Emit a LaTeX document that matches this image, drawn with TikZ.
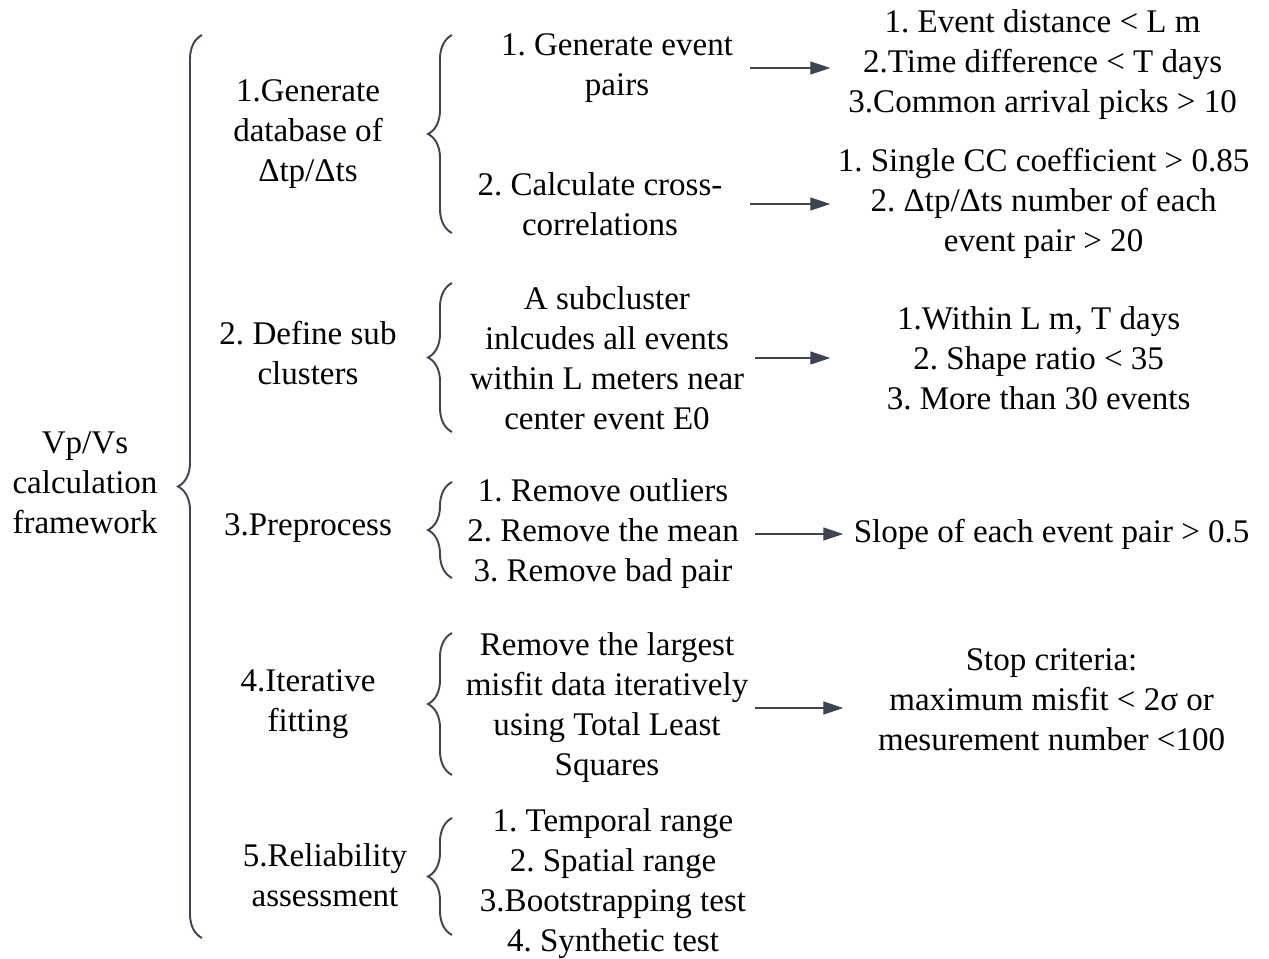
\documentclass[tikz,border=0pt]{standalone}
\usepackage{fontspec}
\setmainfont{Liberation Serif}
\usetikzlibrary{positioning,arrows.meta,decorations.pathreplacing}
\definecolor{slate}{HTML}{3E4451}
\frenchspacing

\begin{document}
\begin{tikzpicture}[x=0.02cm,y=-0.02cm,
 every node/.style={font=\fontsize{18.8}{22.76}\selectfont,align=flush center,inner sep=0pt},
 brc/.style={decorate,decoration={brace,amplitude=0.48cm},draw=slate,line width=1.1pt},
 arr/.style={-{Triangle[length=0.4cm,width=0.26cm]},draw=slate,line width=0.7pt}]

\useasboundingbox (0,0) rectangle (1269,958);

% root of the tree
\node (root) at (85,483) {Vp/Vs\\calculation\\framework};

%Main steps
\node (gen) at (308,134) {1.Generate\\database of\\Δtp/Δts};
\node (define) at (308,353) {2. Define sub\\clusters};
\node (prep) at (308,528) {3.Preprocess};
\node (iter) at (308,704) {4.Iterative\\fitting};
\node (reliab) at (325,875) {5.Reliability\\assessment};

%Sub steps
\node (pairs) [text width=5.32cm] at (617,68) {1. Generate event\\pairs};
\node (xcorr) [text width=6cm] at (600,204) {2. Calculate cross-\\correlations};
\node (subcl) [text width=5.92cm] at (607,358) {A subcluster\\inlcudes all events\\within L meters near\\center event E0};
\node (remove) [text width=6.08cm] at (603,534) {1. Remove outliers\\2. Remove the mean\\3. Remove bad pair};
\node (tls) [text width=5.92cm] at (607,708) {Remove the largest\\misfit data iteratively\\using Total Least\\Squares};
\node (tests) at (613,884) {1. Temporal range\\2. Spatial range\\3.Bootstrapping test\\4. Synthetic test};

%Criteria
\node (critpairs) [right=1.6cm of pairs,yshift=0.06cm,text width=8.48cm] {1. Event distance < L m\\2.Time difference < T days\\3.Common arrival picks > 10};
\node (critxcorr) [right=1.6cm of xcorr,yshift=0.02cm,text width=8.52cm] {1. Single CC coefficient > 0.85\\2. Δtp/Δts number of each\\event pair > 20};
\node (critsubcl) [right=1.5cm of subcl,text width=8.32cm] {1.Within L m, T days\\2. Shape ratio < 35\\3. More than 30 events};
\node (critslope) [right=1.76cm of remove,text width=8.32cm] {Slope of each event pair > 0.5};
\node (stop) [right=1.76cm of tls,yshift=0.16cm,text width=8.32cm] {Stop criteria:\\maximum misfit < 2σ or\\mesurement number <100};

%Braces drawn by hand
\draw[brc] (202,938) -- (202,35);
\draw[brc] (452,233) -- (452,35);
\draw[brc] (452,432) -- (452,283);
\draw[brc] (452,578) -- (452,482);
\draw[brc] (452,775) -- (452,633);
\draw[brc] (452,935) -- (452,818);

%Arrows to the criteria
\draw[arr] (pairs.east) -- (pairs.east -| critpairs.west);
\draw[arr] (xcorr.east) -- (xcorr.east -| critxcorr.west);
\draw[arr] (subcl.east) -- (subcl.east -| critsubcl.west);
\draw[arr] (remove.east) -- (remove.east -| critslope.west);
\draw[arr] (tls.east) -- (tls.east -| stop.west);

\end{tikzpicture}
\end{document}
